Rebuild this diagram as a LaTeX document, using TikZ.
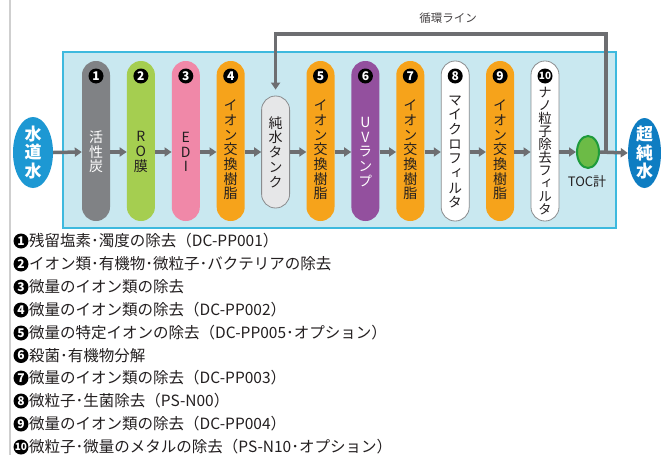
\documentclass[tikz,border=0pt]{standalone}
\usepackage{fontspec}
\setmainfont{Noto Sans CJK JP}
\newfontfamily\cjkv{Noto Sans CJK JP}[RawFeature={+vert}]
\usetikzlibrary{arrows.meta,shapes.geometric}
\definecolor{arrowgray}{HTML}{6D6E71}
\definecolor{boxfill}{HTML}{C9E8F0}
\definecolor{boxline}{HTML}{3DB9DE}
\definecolor{pgray}{HTML}{808285}
\definecolor{pgreen}{HTML}{A5CE50}
\definecolor{ppink}{HTML}{F088A8}
\definecolor{porange}{HTML}{F6A31B}
\definecolor{ppurple}{HTML}{93509E}
\definecolor{tankfill}{HTML}{E6E7E8}
\definecolor{pline}{HTML}{8A8C8E}
\definecolor{blueA}{HTML}{1D98D3}
\definecolor{blueB}{HTML}{0E7DC2}
\definecolor{tocfill}{HTML}{6CBB46}
\definecolor{tocline}{HTML}{1E9B3C}
\definecolor{txt}{HTML}{231F20}
\definecolor{leftline}{HTML}{CFCFCF}
\begin{document}
\begin{tikzpicture}[x=1pt,y=-1pt,
  pill/.style={rectangle, rounded corners=13.9pt, minimum width=28pt, minimum height=160pt, inner sep=0pt},
  whitepill/.style={pill, fill=white, draw=pline, line width=0.8pt},
  num/.style={circle, fill=black, text=white, minimum width=15pt, minimum height=15pt, inner sep=0pt, font=\fontsize{12}{12}\selectfont\bfseries},
  vtext/.style={align=center, inner sep=0pt, text=txt, font=\cjkv\fontsize{14}{14.7}\selectfont},
  flow/.style={draw=arrowgray, line width=3.5pt, -{Triangle[length=7pt,width=9pt]}},
  endell/.style={ellipse, inner sep=0pt, minimum width=40pt, minimum height=71pt},
  etext/.style={align=center, inner sep=0pt, text=white, font=\cjkv\fontsize{17}{18.5}\selectfont\bfseries},
  lnum/.style={circle, fill=black, text=white, minimum width=15pt, minimum height=15pt, inner sep=0pt, font=\fontsize{12}{12}\selectfont\bfseries},
  ltext/.style={anchor=west, inner sep=0pt, text=txt, font=\fontsize{15.5}{15.5}\selectfont}
]
\useasboundingbox (0,0) rectangle (661,455);
\fill[white] (0,0) rectangle (661,455);
\draw[leftline, line width=1.5pt] (10,0) -- (10,455);
% main box
\node[draw=boxline, fill=boxfill, line width=1.2pt, minimum width=553pt, minimum height=176pt, inner sep=0pt] (frame) at (339.5,140) {};
\coordinate (mid) at (0,152);
% pills
\node[pill, fill=pgray] (p1) at (96,141) {};
\node[pill, fill=pgreen] (p2) at (140.9,141) {};
\node[pill, fill=ppink] (p3) at (185.8,141) {};
\node[pill, fill=porange] (p4) at (230.7,141) {};
\node[rectangle, rounded corners=13.9pt, minimum width=28pt, minimum height=112pt, inner sep=0pt, fill=tankfill, draw=pline, line width=0.8pt] (tank) at (275.6,152) {};
\node[pill, fill=porange] (p5) at (320.5,141) {};
\node[pill, fill=ppurple] (p6) at (365.4,141) {};
\node[pill, fill=porange] (p7) at (410.3,141) {};
\node[whitepill] (p8) at (455.2,141) {};
\node[pill, fill=porange] (p9) at (500.1,141) {};
\node[whitepill] (p10) at (545,141) {};
% numbers
\node[num] (n1) at (96,76) {1};
\node[num] (n2) at (140.9,76) {2};
\node[num] (n3) at (185.8,76) {3};
\node[num] (n4) at (230.7,76) {4};
\node[num] (n5) at (320.5,76) {5};
\node[num] (n6) at (365.4,76) {6};
\node[num] (n7) at (410.3,76) {7};
\node[num] (n8) at (455.2,76) {8};
\node[num] (n9) at (500.1,76) {9};
\node[num, font=\fontsize{10}{10}\selectfont\bfseries] (n10) at (545,76) {10};
% pill texts
\node[vtext, text=white] (t1) at (96,152) {活\\性\\炭};
\node[vtext] (t2) at (140.9,152) {R\\O\\膜};
\node[vtext] (t3) at (185.8,152) {E\\D\\I};
\node[vtext] (t4) at (230.7,150) {イ\\オ\\ン\\交\\換\\樹\\脂};
\node[vtext] (tt) at (275.6,152) {純\\水\\タ\\ン\\ク};
\node[vtext] (t5) at (320.5,150) {イ\\オ\\ン\\交\\換\\樹\\脂};
\node[vtext, text=white] (t6) at (365.4,152) {U\\V\\ラ\\ン\\プ};
\node[vtext] (t7) at (410.3,150) {イ\\オ\\ン\\交\\換\\樹\\脂};
\node[vtext] (t8) at (455.2,152) {マ\\イ\\ク\\ロ\\フ\\ィ\\ル\\タ};
\node[vtext] (t9) at (500.1,150) {イ\\オ\\ン\\交\\換\\樹\\脂};
\node[vtext, font=\cjkv\fontsize{13.5}{13}\selectfont] (t10) at (545,151) {ナ\\ノ\\粒\\子\\除\\去\\フ\\ィ\\ル\\タ};
% end points
\node[endell, fill=blueA] (src) at (33,152.5) {};
\node[etext] (srct) at (src.center) {水\\道\\水};
\node[endell, fill=blueB, minimum width=33pt, minimum height=70pt] (dst) at (644.5,153) {};
\node[etext] (dstt) at (dst.center) {超\\純\\水};
\node[ellipse, fill=tocfill, draw=tocline, line width=2pt, minimum width=22pt, minimum height=32pt, inner sep=0pt] (toc) at (588,152) {};
\node[text=txt, font=\fontsize{13}{13}\selectfont, inner sep=0pt] (toct) at (587,182) {TOC計};
\node[text=txt!85, font=\fontsize{11.5}{11.5}\selectfont, inner sep=0pt] (loop) at (448,18) {循環ライン};
% connectors
\draw[flow] (src.east) -- (p1.west|-mid);
\draw[flow] (p1.east|-mid) -- (p2.west|-mid);
\draw[flow] (p2.east|-mid) -- (p3.west|-mid);
\draw[flow] (p3.east|-mid) -- (p4.west|-mid);
\draw[flow] (p4.east|-mid) -- (tank.west);
\draw[flow] (tank.east) -- (p5.west|-mid);
\draw[flow] (p5.east|-mid) -- (p6.west|-mid);
\draw[flow] (p6.east|-mid) -- (p7.west|-mid);
\draw[flow] (p7.east|-mid) -- (p8.west|-mid);
\draw[flow] (p8.east|-mid) -- (p9.west|-mid);
\draw[flow] (p9.east|-mid) -- (p10.west|-mid);
\draw[flow] (p10.east|-mid) -- (toc.west);
\draw[flow] (toc.east) -- (dst.west);
\coordinate (br) at (606,152);
\coordinate (rc) at (606,34);
\draw[flow] (br) -- (rc) -| ([yshift=6pt]tank.north);
% legend
\node[lnum] (l1) at (21,241) {1};
\node[ltext] (d1) at (29,241) {残留塩素･濁度の除去（DC-PP001）};
\node[lnum] (l2) at (21,264) {2};
\node[ltext] (d2) at (29,264) {イオン類･有機物･微粒子･バクテリアの除去};
\node[lnum] (l3) at (21,287) {3};
\node[ltext] (d3) at (29,287) {微量のイオン類の除去};
\node[lnum] (l4) at (21,310) {4};
\node[ltext] (d4) at (29,310) {微量のイオン類の除去（DC-PP002）};
\node[lnum] (l5) at (21,333) {5};
\node[ltext] (d5) at (29,333) {微量の特定イオンの除去（DC-PP005･オプション）};
\node[lnum] (l6) at (21,355.5) {6};
\node[ltext] (d6) at (29,355.5) {殺菌･有機物分解};
\node[lnum] (l7) at (21,378) {7};
\node[ltext] (d7) at (29,378) {微量のイオン類の除去（DC-PP003）};
\node[lnum] (l8) at (21,401) {8};
\node[ltext] (d8) at (29,401) {微粒子･生菌除去（PS-N00）};
\node[lnum] (l9) at (21,424) {9};
\node[ltext] (d9) at (29,424) {微量のイオン類の除去（DC-PP004）};
\node[lnum, font=\fontsize{10}{10}\selectfont\bfseries] (l10) at (21,447) {10};
\node[ltext] (d10) at (29,447) {微粒子･微量のメタルの除去（PS-N10･オプション）};
\end{tikzpicture}
\end{document}
